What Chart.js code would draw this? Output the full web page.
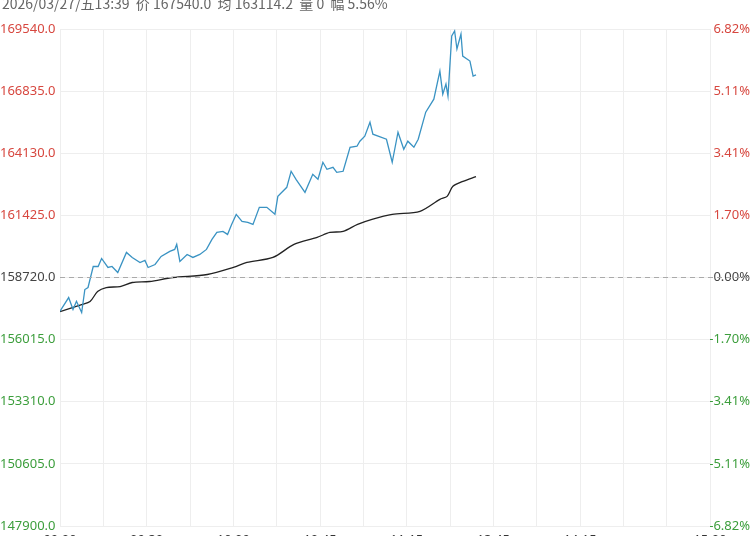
<!DOCTYPE html>
<html><head><meta charset="utf-8">
<script src="https://cdn.jsdelivr.net/npm/chart.js@4/dist/chart.umd.min.js"></script>
<style>
html,body{margin:0;padding:0;background:#fff;overflow:hidden;width:750px;height:536px}
#hdr{position:absolute;left:2px;top:-7px;font:14px "Noto Sans CJK SC","Noto Sans",sans-serif;color:#666;white-space:pre}
#wrap{position:absolute;left:0;top:0;width:750px;height:556px}
</style></head><body>
<div id="wrap"><canvas id="c"></canvas></div>
<div id="hdr">2026/03/27/五13:39  价 167540.0  均 163114.2  量 0  幅 5.56%</div>
<script>
const priceIdx=[0,3,4.5,5.7,7.5,8.6,9.7,11.5,13.2,14.4,16.6,18,20,23,25,27.7,29.4,30.5,32.9,35,38,39.7,40.4,41.5,44,46,48.4,50.7,52.6,54.3,56.4,58,59.4,61,63,65,66.8,69,71.6,74.4,75.4,78.5,80,81.7,84.8,87.5,89.3,91,92.4,94.5,95.8,98,100.4,102.8,103.8,105.5,107.3,108.3,113,115,117,119,120.4,122.5,124,126.6,129.4,131.5,132.5,133.6,134.3,135.6,136.6,137.4,138.8,139.4,141.9,143,144];
const priceVal=[157250,157847,157324,157686,157193,158196,158284,159200,159200,159549,159156,159200,158938,159811,159593,159374,159462,159156,159287,159636,159854,159942,160160,159418,159723,159593,159723,159942,160378,160683,160727,160596,161032,161469,161163,161120,161032,161774,161774,161469,162254,162647,163345,162996,162429,163214,162996,163737,163432,163519,163301,163345,164392,164436,164654,164872,165483,164960,164741,163737,165046,164305,164654,164392,164741,165919,166486,167708,166704,167141,166617,169235,169453,168668,169322,168362,168144,167490,167540];
const avgIdx=[0,7.5,10.4,13,16,20.8,25,31,39,51,60,64.7,73.7,81,89,93.4,98,103,108,115,124.6,131.5,134,136,139.5,144];
const avgVal=[157237,157542,157673,158109,158284,158327,158502,158545,158720,158851,159156,159374,159593,160160,160465,160683,160727,161032,161251,161469,161600,162123,162254,162690,162909,163114];
const leftTicks=[147900,150605,153310,156015,158720,161425,164130,166835,169540];
const rightLabels=['-6.82%','-5.11%','-3.41%','-1.70%','0.00%','1.70%','3.41%','5.11%','6.82%'];
const timeTicks={0:'09:00',30:'09:30',60:'10:00',90:'10:45',120:'11:15',150:'13:45',180:'14:15',225:'15:00'};
const base=158720;
const col=v=>v>base?'#d7473f':(v<base?'#3c9e3c':'#444');
const dashPlugin={id:'dash',afterDatasetsDraw(ch){const {ctx,chartArea:a}=ch;const y=ch.scales.y.getPixelForValue(base);ctx.save();ctx.strokeStyle='#aaa';ctx.setLineDash([5,4]);ctx.lineWidth=1;ctx.beginPath();ctx.moveTo(a.left,y);ctx.lineTo(a.right+40,y);ctx.stroke();ctx.restore();}};
new Chart(document.getElementById('c'),{type:'line',
data:{datasets:[
{data:priceIdx.map((x,i)=>({x,y:priceVal[i]})),borderColor:'#3a93c3',borderWidth:1.3,pointRadius:0,tension:0},
{data:avgIdx.map((x,i)=>({x,y:avgVal[i]})),borderColor:'#222',borderWidth:1.3,pointRadius:0,tension:0.3}]},
options:{responsive:true,maintainAspectRatio:false,animation:false,layout:{padding:{top:29,left:0,right:0,bottom:0}},
plugins:{legend:{display:false},tooltip:{enabled:false}},
scales:{
x:{type:'linear',min:0,max:225,afterBuildTicks:s=>{s.ticks=[];for(let v=0;v<=225;v+=15)s.ticks.push({value:v});},
 afterFit:s=>{s.height=30;},grid:{color:'#eee',drawTicks:false},border:{display:false},
 ticks:{autoSkip:false,maxRotation:0,padding:6,color:'#333',font:{size:13,family:'Noto Sans'},callback:v=>timeTicks[v]||''}},
y:{position:'left',min:147900,max:169540,afterBuildTicks:s=>{s.ticks=leftTicks.map(v=>({value:v}));},
 afterFit:s=>{s.width=60;},grid:{color:'#eee',drawTicks:false},border:{display:false},
 ticks:{padding:3,crossAlign:'far',color:c=>col(c.tick.value),font:{size:13,family:'Noto Sans'},callback:v=>v.toFixed(1)}},
y2:{position:'right',min:147900,max:169540,afterBuildTicks:s=>{s.ticks=leftTicks.map(v=>({value:v}));},
 afterFit:s=>{s.width=40;},grid:{display:false},border:{display:false},
 ticks:{padding:0,crossAlign:'far',color:c=>col(c.tick.value),font:{size:13,family:'Noto Sans'},callback:(v,i)=>rightLabels[i]}}
}},plugins:[dashPlugin]});
</script></body></html>
